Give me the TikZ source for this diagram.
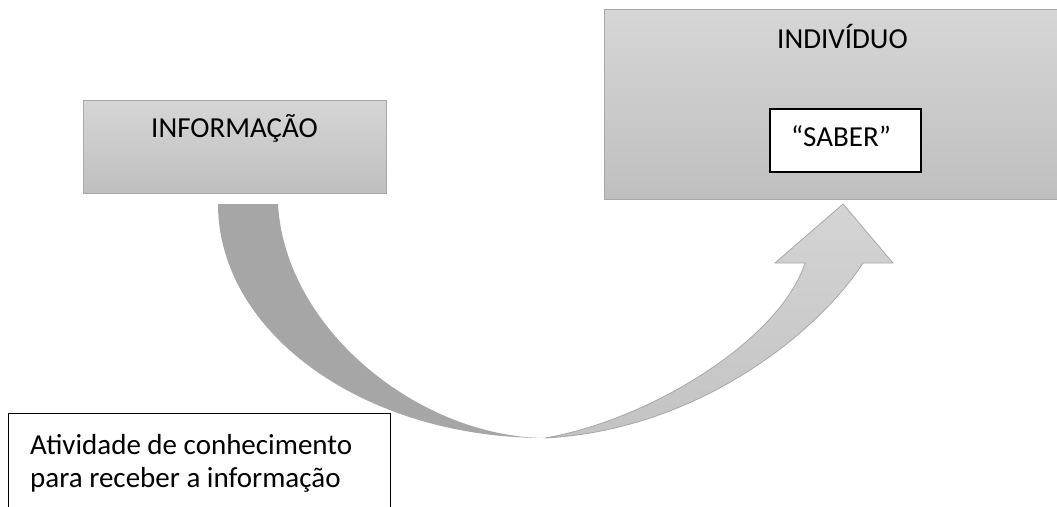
\documentclass[tikz,border=0pt]{standalone}
\usepackage{fontspec}
\setmainfont{Carlito}
\definecolor{boxtop}{HTML}{D6D6D6}
\definecolor{boxbot}{HTML}{BFBFBF}
\definecolor{boxline}{HTML}{A8A8A8}
\definecolor{arrowdark}{HTML}{A6A6A6}
\definecolor{arrowtop}{HTML}{D4D4D4}
\definecolor{arrowbot}{HTML}{C3C3C3}
\begin{document}
\begin{tikzpicture}[x=1pt,y=-1pt,
  graybox/.style={draw=boxline, line width=0.9pt, top color=boxtop, bottom color=boxbot, inner sep=0pt, rectangle},
  whitebox/.style={draw=black, line width=1.3pt, fill=white, inner sep=0pt, rectangle},
  lbl/.style={font=\fontsize{29}{33}\selectfont, inner sep=0pt, text=black}]
\useasboundingbox (0,0) rectangle (1057,506);
\clip (0,0) rectangle (1057,506);

% boxes
\node[graybox, minimum width=303pt, minimum height=93pt] (info) at (234.5,146.5) {};
\node[lbl, anchor=base] (infotxt) at (234.5,137.3) {INFORMAÇÃO};

\node[graybox, minimum width=477pt, minimum height=190pt] (indiv) at (842.5,104) {};
\node[lbl, anchor=base] (indivtxt) at (842.5,48.3) {INDIVÍDUO};
\node[whitebox, minimum width=151pt, minimum height=63pt] (saber) at (845.5,140.5) {};
\node[lbl, anchor=base] (sabertxt) at (841,146.7) {“SABER”};

% curved arrow
\coordinate (tailL) at (218,204);
\coordinate (tailR) at (278,204);
\coordinate (low) at (545,438);
\coordinate (shaftL) at (805,263);
\coordinate (shaftR) at (863,263);
\coordinate (barbL) at (775,263);
\coordinate (barbR) at (893,263);
\coordinate (tip) at (843,204);

\fill[arrowdark] (tailL) .. controls (218,333) and (364,438) .. (low)
  .. controls (420,437) and (285,330) .. (tailR) -- cycle;
\shadedraw[top color=arrowtop, bottom color=arrowbot, draw=boxline, line width=0.8pt, line join=miter]
  (low) .. controls (650,420) and (780,340) .. (shaftL) -- (barbL) -- (tip) -- (barbR) -- (shaftR)
  .. controls (820,330) and (700,430) .. (low) -- cycle;

% bottom box
\node[whitebox, minimum width=382pt, minimum height=120pt, anchor=north west] (act) at (8,413) {};
\node[lbl, anchor=base west] (acttxt1) at (30,454) {Atividade de conhecimento};
\node[lbl, anchor=base west] (acttxt2) at (30,487) {para receber a informação};
\end{tikzpicture}
\end{document}
